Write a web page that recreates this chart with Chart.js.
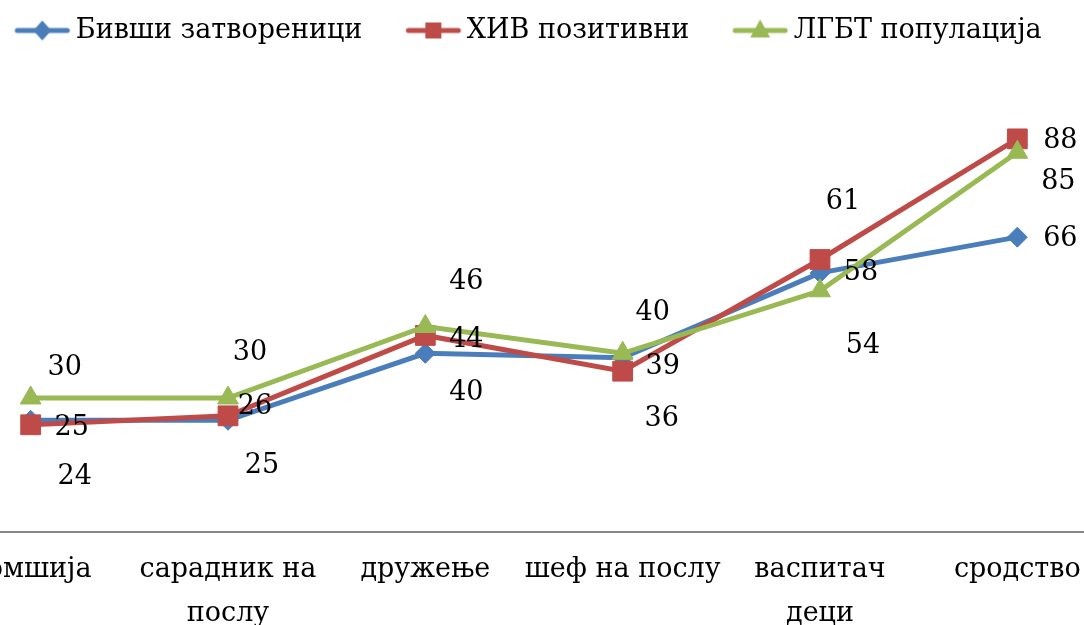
<!DOCTYPE html>
<html>
<head>
<meta charset="utf-8">
<script src="https://cdn.jsdelivr.net/npm/chart.js@4.4.1/dist/chart.umd.min.js"></script>
<style>
  html, body { margin: 0; padding: 0; background: #fff; overflow: hidden; }
  #wrap { position: absolute; left: -83px; top: 0; width: 1214px; height: 625px; }
</style>
</head>
<body>
<div id="wrap"><canvas id="chart" width="1214" height="625"></canvas></div>
<script>
const categories = ['комшија', ['сарадник на', 'послу'], 'дружење', 'шеф на послу', ['васпитач', 'деци'], 'сродство'];
const seriesNames = ['Бивши затвореници', 'ХИВ позитивни', 'ЛГБТ популација'];
const formerPrisoners = [25, 25, 40, 39, 58, 66];
const hivPositive = [24, 26, 44, 36, 61, 88];
const lgbtPopulation = [30, 30, 46, 40, 54, 85];

// label placement next to each point, in px (the labels were moved by hand in the original)
const prisonersLabelPos = [[41, 8], [34, 46], [41, 40], [40, 9], [41, 0], [43, 2]];
const hivLabelPos = [[44, 52], [27, -9], [41, 5], [39, 48], [23, -58], [43, 2]];
const lgbtLabelPos = [[34, -30], [22, -45], [41, -45], [30, -40], [43, 55], [41, 30]];

const BLUE = '#4A7EBB', RED = '#BE4B48', GREEN = '#98B954';
const SERIF = '"DejaVu Serif", serif';

// legend marker: short line with the series marker
function legendMark(color, shape) {
  const c = document.createElement('canvas');
  c.width = 76; c.height = 24;
  const g = c.getContext('2d');
  g.strokeStyle = color; g.lineWidth = 5; g.lineCap = 'round';
  g.beginPath(); g.moveTo(21, 12); g.lineTo(71, 12); g.stroke();
  g.fillStyle = color;
  const cx = 46, cy = 12;
  g.beginPath();
  if (shape === 'rectRot') {
    g.moveTo(cx, cy - 10); g.lineTo(cx + 9, cy); g.lineTo(cx, cy + 10); g.lineTo(cx - 9, cy);
  } else if (shape === 'rect') {
    g.rect(cx - 8, cy - 8, 16, 16);
  } else {
    g.moveTo(cx, cy - 11); g.lineTo(cx + 10, cy + 7); g.lineTo(cx - 10, cy + 7);
  }
  g.closePath(); g.fill();
  return c;
}
const legendMarks = [legendMark(BLUE, 'rectRot'), legendMark(RED, 'rect'), legendMark(GREEN, 'triangle')];

const pointLabels = {
  id: 'pointLabels',
  afterDatasetsDraw(chart) {
    const ctx = chart.ctx;
    ctx.save();
    ctx.font = '27px ' + SERIF;
    ctx.fillStyle = '#000';
    ctx.textAlign = 'center';
    ctx.textBaseline = 'middle';
    chart.data.datasets.forEach((ds, i) => {
      chart.getDatasetMeta(i).data.forEach((pt, j) => {
        const [dx, dy] = ds.labelPos[j];
        ctx.fillText(String(ds.data[j]), pt.x + dx, pt.y + dy);
      });
    });
    ctx.restore();
  }
};

new Chart(document.getElementById('chart'), {
  type: 'line',
  data: {
    labels: categories,
    datasets: [
      { label: seriesNames[0], data: formerPrisoners, labelPos: prisonersLabelPos, order: 2,
        borderColor: BLUE, backgroundColor: BLUE, borderWidth: 5, pointStyle: 'rectRot', pointRadius: 10, pointBorderWidth: 1 },
      { label: seriesNames[1], data: hivPositive, labelPos: hivLabelPos, order: 1,
        borderColor: RED, backgroundColor: RED, borderWidth: 5, pointStyle: 'rect', pointRadius: 14, pointBorderWidth: 1 },
      { label: seriesNames[2], data: lgbtPopulation, labelPos: lgbtLabelPos, order: 0,
        borderColor: GREEN, backgroundColor: GREEN, borderWidth: 5, pointStyle: 'triangle', pointRadius: 12, pointBorderWidth: 1 }
    ]
  },
  options: {
    responsive: false,
    animation: false,
    layout: { padding: { top: -18, left: 0, right: 0, bottom: 0 } },
    plugins: {
      tooltip: { enabled: false },
      legend: {
        position: 'top',
        labels: {
          usePointStyle: true,
          pointStyleWidth: 56,
          boxHeight: 20,
          padding: 35,
          color: '#000',
          font: { family: SERIF, size: 27 },
          sort: (a, b) => a.datasetIndex - b.datasetIndex,
          generateLabels(chart) {
            const items = Chart.defaults.plugins.legend.labels.generateLabels(chart);
            items.forEach(it => { it.pointStyle = legendMarks[it.datasetIndex]; });
            return items;
          }
        }
      }
    },
    scales: {
      x: {
        offset: true,
        grid: { display: false, drawTicks: false },
        border: { display: true, color: '#868686', width: 2 },
        ticks: { color: '#000', font: { family: SERIF, size: 27, lineHeight: 1.63 }, padding: 16, maxRotation: 0, autoSkip: false },
        afterFit(scale) { scale.height = 93; }
      },
      y: { display: false, min: 0, max: 107 }
    }
  },
  plugins: [pointLabels]
});
</script>
</body>
</html>
